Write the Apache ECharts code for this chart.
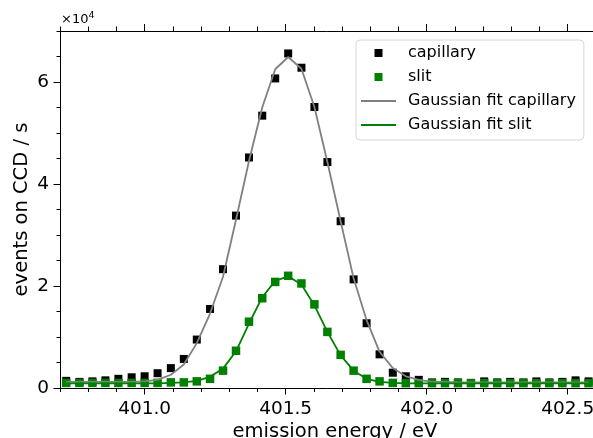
<!DOCTYPE html>
<html><head><meta charset="utf-8">
<script src="https://cdn.jsdelivr.net/npm/echarts@6/dist/echarts.min.js"></script>
<style>html,body{margin:0;padding:0;background:#fff}#c{width:593px;height:438px}</style>
</head><body><div id="c"></div>
<script>
// emission energy (eV) of each measured point
const energy = [400.722, 400.769, 400.815, 400.861, 400.907, 400.954, 401.000, 401.046, 401.093, 401.139,
  401.185, 401.232, 401.278, 401.324, 401.370, 401.417, 401.463, 401.509, 401.556, 401.602,
  401.648, 401.695, 401.741, 401.787, 401.833, 401.880, 401.926, 401.972, 402.019, 402.065,
  402.111, 402.157, 402.204, 402.250, 402.296, 402.343, 402.389, 402.435, 402.481, 402.528, 402.574];
// events on CCD / s
const capillary = [1400, 1200, 1300, 1500, 1800, 2100, 2300, 2900, 3900, 5700,
  9500, 15500, 23300, 33800, 45200, 53400, 60700, 65600, 62800, 55100,
  44300, 32700, 21300, 12700, 6600, 3000, 2300, 1600, 1100, 1200,
  1100, 1000, 1300, 1100, 1200, 1100, 1300, 1100, 1200, 1500, 1300];
const slit = [1000, 1000, 1000, 1000, 1000, 1000, 1000, 1000, 1100, 1100,
  1300, 1800, 3400, 7300, 13000, 17600, 20800, 22000, 20500, 16400,
  11000, 6500, 3400, 1800, 1300, 1000, 950, 950, 950, 950,
  950, 950, 950, 950, 950, 950, 950, 950, 950, 950, 950];
const fitCapillary = [1200, 1200, 1200, 1200, 1200, 1200, 1300, 1600, 2600, 4600,
  8800, 14600, 21800, 33000, 44500, 55000, 62500, 64900, 62600, 55100,
  44300, 32700, 21500, 13300, 7100, 3900, 2300, 1600, 1200, 1200,
  1100, 1100, 1100, 1100, 1100, 1100, 1100, 1100, 1100, 1100, 1100];
const fitSlit = [900, 900, 900, 900, 900, 900, 900, 900, 1000, 1100,
  1400, 2200, 3800, 7200, 12600, 17800, 21000, 21900, 20300, 16200,
  11000, 6400, 3400, 1800, 1200, 1000, 900, 900, 900, 900,
  900, 900, 900, 900, 900, 900, 900, 900, 900, 900, 900];

// axis ticks
const xMajorTicks = [401.0, 401.5, 402.0, 402.5];
const xMinorTicks = [400.7, 400.8, 400.9, 401.0, 401.1, 401.2, 401.3, 401.4, 401.5, 401.6, 401.7, 401.8, 401.9,
  402.0, 402.1, 402.2, 402.3, 402.4, 402.5, 402.6];
const yMajorTicks = [0, 20000, 40000, 60000];
const yMinorTicks = [0, 5000, 10000, 15000, 20000, 25000, 30000, 35000, 40000, 45000, 50000, 55000, 60000, 65000, 70000];

const FONT = 'DejaVu Sans';
const xMin = 400.7, xMax = 402.65, yMin = 0, yMax = 70000;

function pairs(xs, ys) { return xs.map((x, i) => [x, ys[i]]); }

const axisLineStyle = { color: '#000', width: 1 };
function xAxisDef(pos, ticks, len, withLabels, showLine) {
  const a = {
    type: 'value', position: pos, min: xMin, max: xMax,
    axisLine: { show: showLine, onZero: false, lineStyle: axisLineStyle },
    axisTick: { show: true, customValues: ticks, length: len, lineStyle: { color: '#000', width: 1 } },
    axisLabel: { show: false },
    splitLine: { show: false }
  };
  if (withLabels) {
    a.axisLabel = { show: true, customValues: xMajorTicks, formatter: v => v.toFixed(1),
      fontFamily: FONT, fontSize: 18.5, color: '#000', margin: 12 };
    a.name = 'emission energy / eV';
    a.nameLocation = 'middle';
    a.nameGap = 34;
    a.nameMoveOverlap = false;
    a.nameTextStyle = { fontFamily: FONT, fontSize: 19.5, color: '#000' };
  }
  return a;
}
function yAxisDef(ticks, len, withLabels, showLine) {
  const a = {
    type: 'value', position: 'left', min: yMin, max: yMax,
    axisLine: { show: showLine, onZero: false, lineStyle: axisLineStyle },
    axisTick: { show: true, customValues: ticks, length: len, lineStyle: { color: '#000', width: 1 } },
    axisLabel: { show: false },
    splitLine: { show: false }
  };
  if (withLabels) {
    a.axisLabel = { show: true, customValues: yMajorTicks, formatter: v => String(v / 10000),
      fontFamily: FONT, fontSize: 18.5, color: '#000', margin: 11 };
    a.name = 'events on CCD / s';
    a.nameLocation = 'middle';
    a.nameGap = 28;
    a.nameMoveOverlap = false;
    a.nameTextStyle = { fontFamily: FONT, fontSize: 19.5, color: '#000' };
  }
  return a;
}

const sq = 'path://M0,0L10,0L10,10L0,10Z';
const ln = 'path://M0,0L35,0L35,2L0,2Z';
const chart = echarts.init(document.getElementById('c'), null, { renderer: 'canvas' });
chart.setOption({
  animation: false,
  backgroundColor: '#fff',
  grid: { left: 60, top: 31, right: -17, bottom: 50, containLabel: false, outerBoundsMode: 'none' },
  xAxis: [
    xAxisDef('bottom', xMinorTicks, 4, false, true),
    xAxisDef('bottom', xMajorTicks, 6.5, true, false),
    xAxisDef('top', xMinorTicks, 4.5, false, true),
    xAxisDef('top', xMajorTicks, 7, false, false)
  ],
  yAxis: [
    yAxisDef(yMinorTicks, 3.5, false, true),
    yAxisDef(yMajorTicks, 6.5, true, false)
  ],
  graphic: [{
    type: 'text', left: 61, top: 11,
    style: {
      text: '×10{s|4}', fill: '#000', font: '13px "DejaVu Sans"',
      rich: { s: { fontFamily: FONT, fontSize: 9.5, verticalAlign: 'top', padding: [0, 0, 7, 0], fill: '#000' } }
    }
  }],
  legend: {
    left: 356, top: 40, orient: 'vertical',
    padding: [5, 8, 7, 5],
    itemWidth: 35, itemHeight: 8, itemGap: 8,
    backgroundColor: '#fff', borderColor: '#d6d6d6', borderWidth: 1, borderRadius: 4,
    textStyle: { fontFamily: FONT, fontSize: 16, color: '#000', padding: [0, 0, 0, 7], lineHeight: 16 },
    data: [
      { name: 'capillary', icon: sq },
      { name: 'slit', icon: sq },
      { name: 'Gaussian fit capillary', icon: ln },
      { name: 'Gaussian fit slit', icon: ln }
    ]
  },
  series: [
    { name: 'capillary', type: 'scatter', xAxisIndex: 0, yAxisIndex: 0, symbol: 'rect', symbolSize: 8,
      itemStyle: { color: '#000', opacity: 1 }, data: pairs(energy, capillary), z: 2 },
    { name: 'slit', type: 'scatter', xAxisIndex: 0, yAxisIndex: 0, symbol: 'rect', symbolSize: 8.5,
      itemStyle: { color: '#008000', opacity: 1 }, data: pairs(energy, slit), z: 3 },
    { name: 'Gaussian fit capillary', type: 'line', xAxisIndex: 0, yAxisIndex: 0, symbol: 'none', smooth: false,
      lineStyle: { color: '#808080', width: 1.8 }, itemStyle: { color: '#808080' },
      data: pairs(energy, fitCapillary), z: 4 },
    { name: 'Gaussian fit slit', type: 'line', xAxisIndex: 0, yAxisIndex: 0, symbol: 'none', smooth: false,
      lineStyle: { color: '#008000', width: 1.8 }, itemStyle: { color: '#008000' },
      data: pairs(energy, fitSlit), z: 5 }
  ]
});
</script>
</body></html>
